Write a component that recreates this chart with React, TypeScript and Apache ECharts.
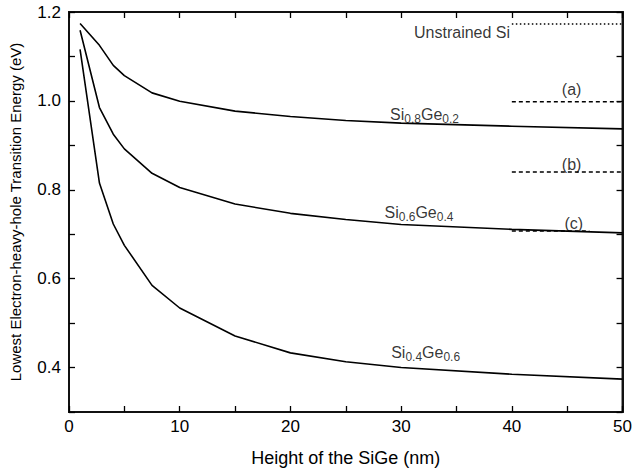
import React, { useEffect, useRef } from "react";
import * as echarts from "echarts";

const heights = [1, 2.75, 4, 5, 7.5, 10, 15, 20, 25, 30, 40, 50];
const si08 = [1.174, 1.125, 1.080, 1.057, 1.018, 0.999, 0.977, 0.965, 0.956, 0.950, 0.943, 0.937];
const si06 = [1.159, 0.985, 0.925, 0.892, 0.837, 0.805, 0.768, 0.747, 0.733, 0.722, 0.711, 0.703];
const si04 = [1.116, 0.815, 0.723, 0.675, 0.585, 0.534, 0.471, 0.433, 0.413, 0.400, 0.385, 0.374];

const refX = [40, 50];
const unstrainedSi = 1.173;
const refA = 0.998;
const refB = 0.840;
const refC = 0.707;

const FONT = "Liberation Sans";

export default function App() {
  const ref = useRef<HTMLDivElement>(null);
  useEffect(() => {
    if (!ref.current) return;
    const chart = echarts.init(ref.current, undefined, { renderer: "svg" });
    const curve = (name: string, ys: number[]) => ({
      name,
      type: "line",
      data: heights.map((x, i) => [x, ys[i]]),
      symbol: "none",
      lineStyle: { color: "#000", width: 1.6 },
      z: 3,
    });
    const refLine = (name: string, y: number, type: any, xEnd = 50) => ({
      name,
      type: "line",
      data: [[refX[0], y], [xEnd, y]],
      symbol: "none",
      lineStyle: { color: "#000", width: 1.5, type },
    });
    const rich = {
      n: { fontSize: 16, fontFamily: FONT, color: "#000", lineHeight: 18 },
      s: { fontSize: 12, fontFamily: FONT, color: "#000", lineHeight: 18, padding: [9, 0, 0, 0] },
    };
    const textPt = (x: number, y: number, text: string, align: string) => ({
      value: [x, y],
      label: {
        show: true,
        position: "inside",
        align,
        verticalAlign: "middle",
        formatter: text,
        rich,
        fontSize: 16,
        fontFamily: FONT,
        color: "#000",
      },
    });
    const yFmt = (v: number) => {
      const r = Math.round(v * 10);
      return r % 2 === 0 && r >= 4 ? (r / 10).toFixed(1) : "";
    };
    const xFmt = (v: number) => (Math.round(v) % 10 === 0 ? String(Math.round(v)) : "");
    const line = () => ({ onZero: false, show: true, lineStyle: { color: "#111111", width: 2 } });
    const tick = () => ({ show: true, inside: true, length: 6, lineStyle: { color: "#000", width: 1.3 } });
    chart.setOption({
      animation: false,
      grid: {
        left: 69, right: 9, top: 12, bottom: 60,
        show: true, borderColor: "#111111", borderWidth: 2, backgroundColor: "transparent",
      },
      xAxis: [
        {
          type: "value",
          position: "bottom",
          min: 0,
          max: 50,
          interval: 5,
          axisLine: line(),
          axisTick: tick(),
          axisLabel: { formatter: xFmt, color: "#000", fontSize: 17, fontFamily: FONT, margin: 6 },
          splitLine: { show: false },
          name: "Height of the SiGe (nm)",
          nameLocation: "middle",
          nameGap: 37,
          nameTextStyle: { color: "#000", fontSize: 18, fontFamily: FONT },
        },
        {
          type: "value",
          position: "top",
          min: 0,
          max: 50,
          interval: 5,
          axisLine: line(),
          axisTick: tick(),
          axisLabel: { show: false },
          splitLine: { show: false },
        },
      ],
      yAxis: [
        {
          type: "value",
          position: "left",
          min: 0.3,
          max: 1.2,
          interval: 0.1,
          axisLine: line(),
          axisTick: tick(),
          axisLabel: { formatter: yFmt, color: "#000", fontSize: 17, fontFamily: FONT, margin: 8 },
          splitLine: { show: false },
          name: "Lowest Electron-heavy-hole Transition Energy (eV)",
          nameLocation: "middle",
          nameGap: 46,
          nameTextStyle: { color: "#000", fontSize: 15, fontFamily: FONT },
        },
        {
          type: "value",
          position: "right",
          min: 0.3,
          max: 1.2,
          interval: 0.1,
          axisLine: line(),
          axisTick: tick(),
          axisLabel: { show: false },
          splitLine: { show: false },
        },
      ],
      series: [
        curve("Si0.8Ge0.2", si08),
        curve("Si0.6Ge0.4", si06),
        curve("Si0.4Ge0.6", si04),
        refLine("Unstrained Si", unstrainedSi, [1.5, 2.5]),
        refLine("(a)", refA, [4, 3]),
        refLine("(b)", refB, [4, 3]),
        refLine("(c)", refC, [4, 3], 47),
        {
          type: "scatter",
          symbolSize: 0,
          silent: true,
          data: [
            textPt(35.5, 1.153, "Unstrained Si", "center"),
            textPt(45.4, 1.026, "(a)", "center"),
            textPt(45.4, 0.856, "(b)", "center"),
            textPt(45.6, 0.725, "(c)", "center"),
            textPt(29.0, 0.969, "{n|Si}{s|0.8}{n|Ge}{s|0.2}", "left"),
            textPt(28.5, 0.748, "{n|Si}{s|0.6}{n|Ge}{s|0.4}", "left"),
            textPt(29.1, 0.434, "{n|Si}{s|0.4}{n|Ge}{s|0.6}", "left"),
          ],
        },
      ],
    });
    return () => chart.dispose();
  }, []);
  return <div ref={ref} style={{ width: 635, height: 472, position: "absolute", left: 0, top: 0 }} />;
}
